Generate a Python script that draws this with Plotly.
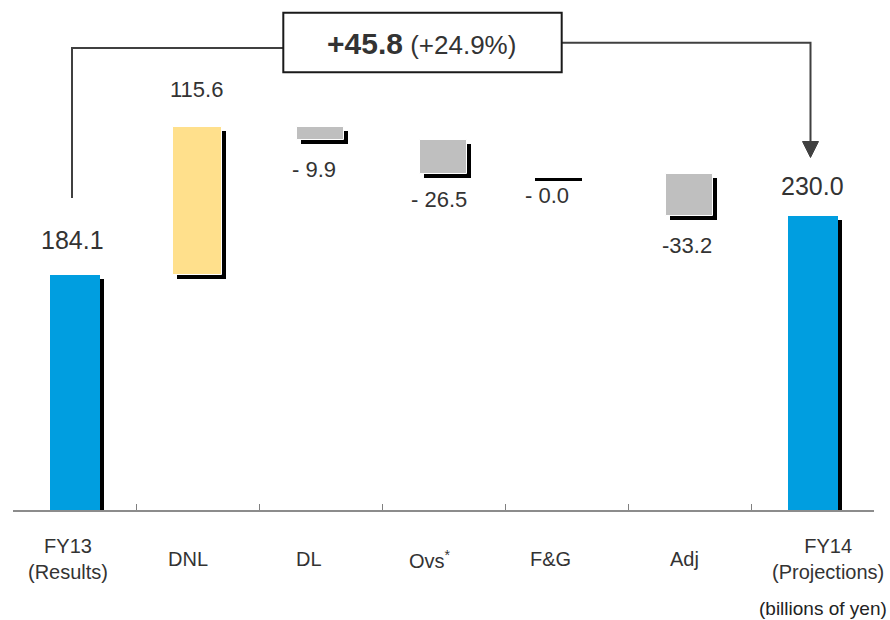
import plotly.graph_objects as go

# ---------------- data ----------------
categories = ["FY13", "DNL", "DL", "Ovs", "F&G", "Adj", "FY14"]
tick_labels = ["FY13<br>(Results)", "DNL", "DL", "Ovs<sup>*</sup>", "F&G", "Adj", "FY14<br>(Projections)"]
start_value = 184.1
changes = [115.6, -9.9, -26.5, -0.0, -33.2]
end_value = 230.0
value_labels = ["184.1", "115.6", "- 9.9", "- 26.5", "- 0.0", "-33.2", "230.0"]
headline_change = "+45.8"
headline_pct = "(+24.9%)"
unit_label = "(billions of yen)"

# ---------------- layout geometry / style ----------------
W, H = 890, 620
ML, MR, MT, MB = 13, 16, 0, 110
PW = W - ML - MR
PH = H - MT - MB
PX_PER_UNIT = 1.278
Y_MAX = PH / PX_PER_UNIT
N = len(categories)
CAT_PX = PW / N

BLUE = "#009EE0"
YELLOW = "#FFE08C"
GRAY = "#BFBFBF"
TEXT = "#333333"
LINE = "#404040"
FONT = "Liberation Sans, Arial, sans-serif"

bar_colors = [BLUE, YELLOW, GRAY, GRAY, GRAY, GRAY, BLUE]
bar_width_px = [50, 48.5, 47.5, 47.5, 47, 47.5, 50]
bar_offset_px = [0, 0, 0, 0, -12, 0, 0]
edge_width = [0, 1, 1, 1, 1, 1, 0]
SHADOW_DX, SHADOW_DY = 4, 4
MIN_SHADOW_PX = 3

value_font = [25, 22, 22, 22, 22, 22, 25]
value_dy = [35, 37, -30, -26, -22, -30, 30]
value_dx = [-2, -1, -7, -5, -8, -3, 0]
label_dx = [-7, -10, -12, -14, -16, -5, 15]
LABEL_Y_PX = 559


def paper_x(px):
    return (px - ML) / PW


def paper_y(py):
    return (H - MB - py) / PH


# ---------------- waterfall geometry from data ----------------
bases, lengths = [0.0], [start_value]
running = start_value
for c in changes:
    bases.append(running)
    lengths.append(c)
    running += c
bases.append(0.0)
lengths.append(end_value)

widths = [w / CAT_PX for w in bar_width_px]
offsets = [(o - w / 2) / CAT_PX for w, o in zip(bar_width_px, bar_offset_px)]

min_len = MIN_SHADOW_PX / PX_PER_UNIT
shadow_len = [l if abs(l) >= min_len else -min_len for l in lengths]
shadow_base = [b - SHADOW_DY / PX_PER_UNIT for b in bases]
shadow_offsets = [o + SHADOW_DX / CAT_PX for o in offsets]

fig = go.Figure()
fig.add_trace(go.Bar(
    x=categories, y=shadow_len, base=shadow_base, width=widths, offset=shadow_offsets,
    marker=dict(color="black", line=dict(width=0)), hoverinfo="skip", showlegend=False,
))
fig.add_trace(go.Bar(
    x=categories, y=lengths, base=bases, width=widths, offset=offsets,
    marker=dict(color=bar_colors, line=dict(width=edge_width, color="white")),
    showlegend=False,
))

annotations = []
for i, cat in enumerate(categories):
    top = bases[i] + lengths[i]
    annotations.append(dict(
        x=cat, y=top, xref="x", yref="y", text=value_labels[i], showarrow=False,
        xanchor="center", yanchor="middle", xshift=value_dx[i] + bar_offset_px[i], yshift=value_dy[i],
        font=dict(size=value_font[i], color=TEXT, family=FONT),
    ))
    annotations.append(dict(
        x=cat, y=paper_y(LABEL_Y_PX), xref="x", yref="paper", text=tick_labels[i], showarrow=False,
        xanchor="center", yanchor="middle", xshift=label_dx[i],
        font=dict(size=20, color=TEXT, family=FONT),
    ))

# headline box text
annotations.append(dict(
    x=paper_x(421), y=paper_y(43), xref="paper", yref="paper",
    text=f"<b><span style='font-size:30px'>{headline_change}</span></b> {headline_pct}",
    showarrow=False, xanchor="center", yanchor="middle",
    font=dict(size=26, color=TEXT, family=FONT),
))
annotations.append(dict(
    x=paper_x(889), y=paper_y(608), xref="paper", yref="paper", text=unit_label,
    showarrow=False, xanchor="right", yanchor="middle",
    font=dict(size=19, color="#222222", family=FONT),
))


def path(points):
    s = "M {} {}".format(paper_x(points[0][0]), paper_y(points[0][1]))
    for px, py in points[1:]:
        s += " L {} {}".format(paper_x(px), paper_y(py))
    return s


shapes = [
    dict(type="path", xref="paper", yref="paper",
         path=path([(72, 198), (72, 48), (283, 48)]), line=dict(color=LINE, width=2)),
    dict(type="path", xref="paper", yref="paper",
         path=path([(562, 42.7), (810.5, 42.7), (810.5, 143)]), line=dict(color=LINE, width=2)),
    dict(type="path", xref="paper", yref="paper",
         path=path([(802.5, 141.5), (818.5, 141.5), (810.5, 157.5)]) + " Z",
         fillcolor=LINE, line=dict(color=LINE, width=1)),
    dict(type="rect", xref="paper", yref="paper",
         x0=paper_x(283.3), x1=paper_x(561.7), y0=paper_y(72.3), y1=paper_y(12.7),
         fillcolor="white", line=dict(color="#1a1a1a", width=2)),
]

fig.update_layout(
    width=W, height=H, margin=dict(l=ML, r=MR, t=MT, b=MB),
    paper_bgcolor="white", plot_bgcolor="white",
    barmode="overlay", bargap=0,
    annotations=annotations, shapes=shapes,
    font=dict(family=FONT, color=TEXT),
    xaxis=dict(
        type="category", categoryorder="array", categoryarray=categories,
        range=[-0.5, N - 0.5], showticklabels=False, tickson="boundaries",
        ticks="inside", ticklen=6, tickwidth=1, tickcolor="#808080",
        showline=True, linecolor="#8c8c8c", linewidth=2, showgrid=False, zeroline=False,
    ),
    yaxis=dict(range=[0, Y_MAX], visible=False, showgrid=False, zeroline=False),
)

fig.write_html(
    "out.html",
    config={"displayModeBar": False},
    post_script="document.body.style.margin='0px';document.body.style.overflow='hidden';",
)
